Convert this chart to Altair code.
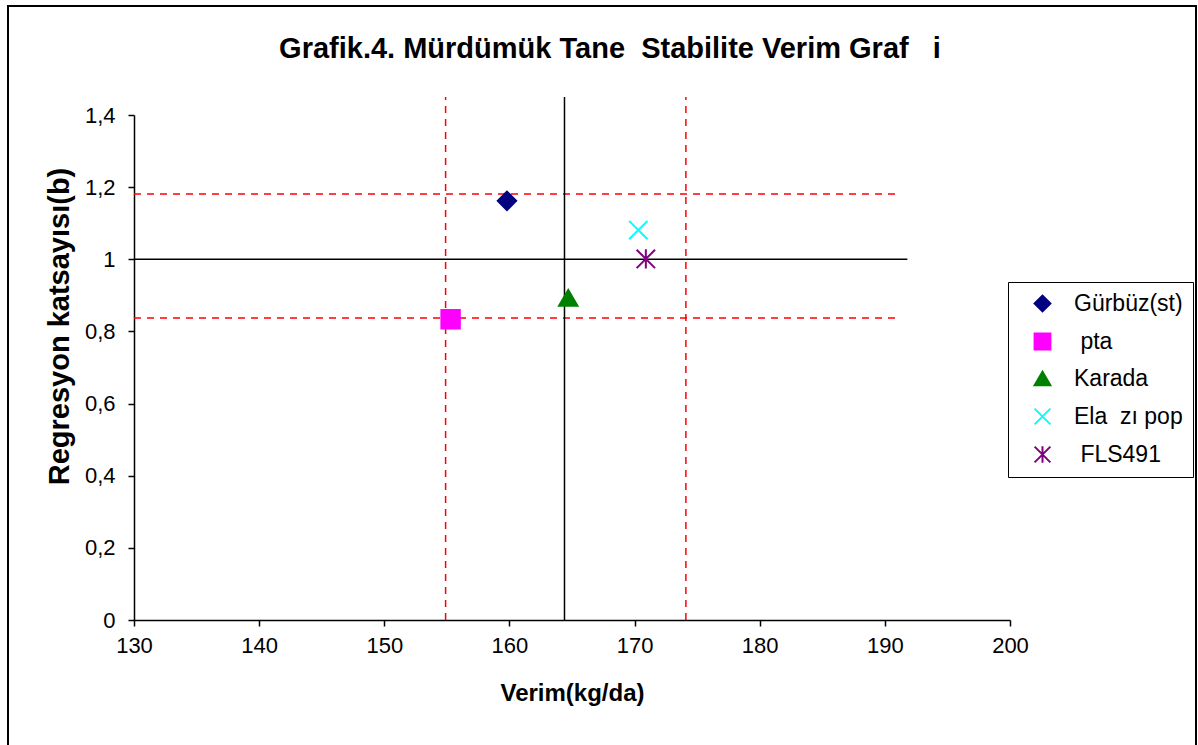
import altair as alt
import pandas as pd

# Genotypes (legend order), yield and regression coefficient
genotipler = ["Gürbüz(st)", "\u200b\u00a0pta", "Karada", "Ela\u00a0\u00a0zı pop", "\u200b\u00a0FLS491"]
verim = [159.8, 155.3, 164.7, 170.3, 170.9]
regresyon_b = [1.162, 0.834, 0.893, 1.081, 1.001]
renkler = ["#000080", "#FF00FF", "#008000", "#00FFFF", "#800080"]
sekiller = [
    "diamond",
    "square",
    "triangle-up",
    "M-1,-1L1,1M-1,1L1,-1",
    "M-1,-1L1,1M-1,1L1,-1M0,-1.05L0,1.05",
]

# Reference lines: mean yield, mean b and the dashed limits around them
ort_verim = 164.4
verim_sinir = [154.9, 174.1]
ort_b = 1.0
b_sinir = [1.181, 0.837]
cizgi_ust = 1.45
yatay_son_siyah = 191.8
yatay_son_kirmizi = 191.0

x_ticks = [130, 140, 150, 160, 170, 180, 190, 200]
y_ticks = [0, 0.2, 0.4, 0.6, 0.8, 1.0, 1.2, 1.4]

FONT = "Liberation Sans"

noktalar = pd.DataFrame({"seri": genotipler, "verim": verim, "b": regresyon_b})
dikey_siyah = pd.DataFrame({"x": [ort_verim], "y0": [0.0], "y1": [cizgi_ust]})
dikey_kirmizi = pd.DataFrame({"x": verim_sinir, "y0": [0.0, 0.0], "y1": [cizgi_ust, cizgi_ust]})
yatay_siyah = pd.DataFrame({"y": [ort_b], "x0": [130.0], "x1": [yatay_son_siyah]})
yatay_kirmizi = pd.DataFrame({"y": b_sinir, "x0": [130.0, 130.0], "x1": [yatay_son_kirmizi] * 2})

x_scale = alt.Scale(domain=[130, 200], nice=False)
y_scale = alt.Scale(domain=[0, 1.4], nice=False)

x_axis = alt.Axis(
    values=x_ticks, title="Verim(kg/da)", grid=False, labelFlush=False,
    labelFontSize=22, labelPadding=9, titleFontSize=24, titleFontWeight="bold",
    titlePadding=25, tickSize=6,
)
y_axis = alt.Axis(
    values=y_ticks, title="Regresyon katsayısı(b)", grid=False, labelFlush=False,
    labelExpr="replace(toString(datum.value), '.', ',')",
    labelFontSize=22, labelPadding=13, titleFontSize=29, titleFontWeight="bold",
    titlePadding=10, tickSize=6, titleY=211,
)

ortak_lejant = alt.Legend(
    title=None, orient="none", legendX=874, legendY=167,
    strokeColor="black", padding=10, symbolOffset=13,
    labelFontSize=23, labelFont=FONT, labelColor="black",
    labelOffset=20, rowPadding=13, symbolSize=250, symbolStrokeWidth=2,
    labelLimit=300,
)

renk_scale = alt.Scale(domain=genotipler, range=renkler)

rule_v_black = alt.Chart(dikey_siyah).mark_rule(color="black", strokeWidth=1.5).encode(
    x=alt.X("x:Q", scale=x_scale, axis=x_axis),
    y=alt.Y("y0:Q", scale=y_scale, axis=y_axis),
    y2="y1:Q",
)
rule_v_red = alt.Chart(dikey_kirmizi).mark_rule(color="#FF0000", strokeWidth=1.5, strokeDash=[7, 6]).encode(
    x=alt.X("x:Q", scale=x_scale), y=alt.Y("y0:Q", scale=y_scale), y2="y1:Q",
)
rule_h_black = alt.Chart(yatay_siyah).mark_rule(color="black", strokeWidth=1.5).encode(
    y=alt.Y("y:Q", scale=y_scale), x=alt.X("x0:Q", scale=x_scale), x2="x1:Q",
)
rule_h_red = alt.Chart(yatay_kirmizi).mark_rule(color="#FF0000", strokeWidth=1.5, strokeDash=[7, 6]).encode(
    y=alt.Y("y:Q", scale=y_scale), x=alt.X("x0:Q", scale=x_scale), x2="x1:Q",
)

points = alt.Chart(noktalar).mark_point(filled=True, size=340, strokeWidth=2, opacity=1).encode(
    x=alt.X("verim:Q", scale=x_scale),
    y=alt.Y("b:Q", scale=y_scale),
    color=alt.Color("seri:N", scale=renk_scale, sort=genotipler, legend=ortak_lejant),
    stroke=alt.Stroke("seri:N", scale=renk_scale, sort=genotipler, legend=ortak_lejant),
    shape=alt.Shape("seri:N", scale=alt.Scale(domain=genotipler, range=sekiller),
                    sort=genotipler, legend=ortak_lejant),
)

# Outer chart border
cerceve = alt.Chart(noktalar).mark_rect(filled=False, stroke="black", strokeWidth=2).encode(
    x=alt.value(-126), x2=alt.value(1062), y=alt.value(-109), y2=alt.value(645),
)

chart = (
    alt.layer(cerceve, rule_v_red, rule_h_red, rule_v_black, rule_h_black, points)
    .properties(
        width=876, height=505,
        title=alt.TitleParams(
            "Grafik.4. Mürdümük Tane\u00a0\u00a0Stabilite Verim Graf\u00a0\u00a0\u00a0i",
            fontSize=29, font=FONT, fontWeight="bold", color="black",
            anchor="middle", frame="group", dx=38, offset=-82, baseline="alphabetic",
        ),
        autosize=alt.AutoSizeParams(type="none"),
        padding={"left": 134, "top": 115, "right": 188, "bottom": 125},
    )
    .configure(font=FONT)
    .configure_view(stroke=None)
    .configure_axis(
        labelFont=FONT, titleFont=FONT, labelColor="black", titleColor="black",
        domainColor="black", tickColor="black", domainWidth=1.5, tickWidth=1.5,
    )
)

chart.save("out.html", embed_options={"renderer": "svg", "actions": False})
